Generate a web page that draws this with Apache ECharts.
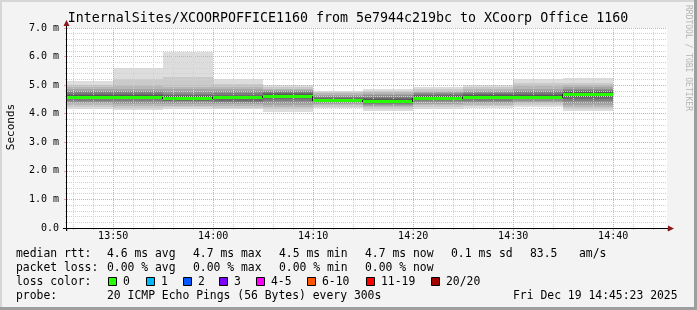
<!DOCTYPE html>
<html><head><meta charset="utf-8">
<script src="https://cdn.jsdelivr.net/npm/echarts@6/dist/echarts.min.js"></script>
<style>html,body{margin:0;padding:0;background:#f3f3f3}#c{width:697px;height:310px}</style>
</head><body><div id="c"></div>
<script>
// ---------------- data ----------------
const titleText = 'InternalSites/XCOORPOFFICE1160 from 5e7944c219bc to XCoorp Office 1160';
const graphStart = '13:45:23';
const graphEnd = '14:45:23';
const stepEnds = ['13:50','13:55','14:00','14:05','14:10','14:15','14:20','14:25','14:30','14:35','14:40'];
const medians = [4.60, 4.60, 4.55, 4.57, 4.63, 4.48, 4.45, 4.56, 4.59, 4.60, 4.68];
// 20 sorted ping RTTs (ms) per 5-minute step
const pingsByStep = [
  [4.18,4.24,4.30,4.36,4.41,4.46,4.50,4.54,4.57,4.59,4.61,4.63,4.66,4.70,4.75,4.80,4.86,4.92,5.00,5.15],
  [4.13,4.20,4.27,4.33,4.39,4.45,4.50,4.54,4.57,4.59,4.61,4.63,4.66,4.70,4.75,4.81,4.88,4.96,5.20,5.61],
  [4.16,4.22,4.28,4.34,4.39,4.43,4.46,4.49,4.52,4.54,4.56,4.58,4.61,4.65,4.70,4.77,4.85,4.95,5.30,6.15],
  [4.15,4.21,4.27,4.33,4.38,4.42,4.46,4.51,4.54,4.56,4.58,4.60,4.63,4.67,4.72,4.78,4.85,4.94,5.04,5.21],
  [4.07,4.15,4.23,4.31,4.38,4.44,4.50,4.56,4.60,4.62,4.64,4.66,4.69,4.72,4.76,4.80,4.84,4.88,4.93,5.00],
  [4.19,4.24,4.29,4.33,4.37,4.40,4.43,4.45,4.46,4.47,4.49,4.51,4.53,4.56,4.59,4.63,4.67,4.71,4.76,4.81],
  [4.10,4.16,4.22,4.27,4.31,4.35,4.38,4.40,4.42,4.44,4.46,4.49,4.52,4.56,4.60,4.65,4.70,4.75,4.81,4.88],
  [4.17,4.23,4.29,4.35,4.40,4.44,4.48,4.51,4.54,4.55,4.57,4.59,4.62,4.65,4.68,4.72,4.76,4.81,4.86,4.92],
  [4.20,4.26,4.32,4.37,4.42,4.46,4.50,4.53,4.56,4.58,4.60,4.62,4.65,4.68,4.72,4.76,4.81,4.86,4.92,5.00],
  [4.25,4.31,4.37,4.42,4.46,4.50,4.53,4.56,4.58,4.59,4.61,4.63,4.66,4.70,4.75,4.81,4.88,4.96,5.06,5.20],
  [4.11,4.18,4.25,4.32,4.39,4.45,4.51,4.57,4.63,4.67,4.69,4.72,4.76,4.80,4.84,4.88,4.93,4.99,5.08,5.24]
];
const yTickLabels = ['0.0','1.0 m','2.0 m','3.0 m','4.0 m','5.0 m','6.0 m','7.0 m'];
const xTickLabels = ['13:50','14:00','14:10','14:20','14:30','14:40'];
const yAxisName = 'Seconds';
const legendRows = [
  [[16,'median rtt:'],[107,'4.6 ms avg'],[193,'4.7 ms max'],[279,'4.5 ms min'],[365,'4.7 ms now'],[451,'0.1 ms sd'],[530,'83.5'],[579,'am/s']],
  [[16,'packet loss:'],[107,'0.00 % avg'],[193,'0.00 % max'],[279,'0.00 % min'],[365,'0.00 % now']],
  [[16,'loss color:']],
  [[16,'probe:'],[107,'20 ICMP Echo Pings (56 Bytes) every 300s'],[513,'Fri Dec 19 14:45:23 2025']]
];
const lossLabels = ['0','1','2','3','4-5','6-10','11-19','20/20'];
const lossColors = ['#26ff00','#00b8ff','#0059ff','#7e00ff','#ff00ff','#ff5500','#ff0000','#a10000'];
const lossBoxX = [108,146,183,219,256,307,366,431];
const watermark = 'RRDTOOL / TOBI OETIKER';

// ---------------- helpers ----------------
function toMin(s){const p=s.split(':').map(Number);return p[0]*60+p[1]+(p[2]||0)/60;}
function fmtMin(v){const h=Math.floor(v/60),m=Math.round(v-h*60);return h+':'+(m<10?'0':'')+m;}
const xMin = toMin(graphStart), xMax = toMin(graphEnd);
const endsMin = stepEnds.map(toMin);
const startsMin = endsMin.map((e,i)=> i===0 ? Math.max(xMin, e-5) : endsMin[i-1]);
const smokeData = pingsByStep.map((p,i)=>[startsMin[i], endsMin[i]].concat(p));
const medData = medians.map((m,i)=>[startsMin[i], endsMin[i], m]);

function grey(c){const h=c.toString(16).padStart(2,'0');return '#'+h+h+h;}
const MONO = '"DejaVu Sans Mono", monospace';
const minorGrid = {color:'#d0d0d0', width:1, type:[1,1]};
const majorGrid = {color:'#f0a0a0', width:1, type:[1,1]};

const chart = echarts.init(document.getElementById('c'), null, {renderer:'canvas'});

const graphics = [];
graphics.push({type:'rect', shape:{x:0,y:0,width:697,height:2}, style:{fill:'#d6d6d6'}, silent:true, z:-10});
graphics.push({type:'rect', shape:{x:0,y:0,width:2,height:310}, style:{fill:'#d6d6d6'}, silent:true, z:-10});
graphics.push({type:'rect', shape:{x:0,y:307,width:697,height:3}, style:{fill:'#9e9e9e'}, silent:true, z:-10});
graphics.push({type:'rect', shape:{x:694,y:0,width:3,height:310}, style:{fill:'#9e9e9e'}, silent:true, z:-10});
graphics.push({type:'text', x:348, y:19, style:{text:titleText, font:'13.3px '+MONO, fill:'#000', align:'center', verticalAlign:'middle'}, z:10});
graphics.push({type:'text', x:11, y:127, rotation:Math.PI/2, style:{text:yAxisName, font:'11px '+MONO, fill:'#000', align:'center', verticalAlign:'middle'}, z:10});
graphics.push({type:'text', x:688, y:5, rotation:-Math.PI/2, style:{text:watermark, font:'8px '+MONO, fill:'#b4b4b4', align:'left', verticalAlign:'middle'}, z:10});
graphics.push({type:'line', shape:{x1:63,y1:228.5,x2:669,y2:228.5}, style:{stroke:'#000',lineWidth:1}, z:20});
graphics.push({type:'line', shape:{x1:66.5,y1:231,x2:66.5,y2:25}, style:{stroke:'#000',lineWidth:1}, z:20});
graphics.push({type:'polygon', shape:{points:[[674,228.5],[668,225.5],[668,231.5]]}, style:{fill:'#8b1a1a'}, z:20});
graphics.push({type:'polygon', shape:{points:[[66.5,20],[63.5,26],[69.5,26]]}, style:{fill:'#8b1a1a'}, z:20});
const rowY = [254,268,282,296];
legendRows.forEach((row,ri)=>{
  row.forEach(([x,t])=>{
    graphics.push({type:'text', x:x, y:rowY[ri], style:{text:t, font:'11.4px '+MONO, fill:'#000', align:'left', verticalAlign:'middle'}, z:10});
  });
});
lossLabels.forEach((l,i)=>{
  graphics.push({type:'rect', shape:{x:lossBoxX[i]+0.5,y:277.5,width:8,height:8}, style:{fill:lossColors[i], stroke:'#000', lineWidth:1}, z:10});
  graphics.push({type:'text', x:lossBoxX[i]+15, y:282, style:{text:l, font:'11.4px '+MONO, fill:'#000', align:'left', verticalAlign:'middle'}, z:10});
});

const option = {
  animation:false,
  backgroundColor:'#f3f3f3',
  grid:{left:67, right:30, top:28, bottom:82, show:true, backgroundColor:'#ffffff', borderWidth:0},
  xAxis:{
    type:'value', min:xMin, max:xMax, splitNumber:6, z:3,
    axisLine:{show:false},
    axisTick:{show:true, length:3, inside:false, lineStyle:{color:'#f0a0a0'}},
    minorTick:{show:true, splitNumber:5, length:2, lineStyle:{color:'#c8c8c8'}},
    axisLabel:{show:true, margin:3, fontSize:10, fontFamily:'DejaVu Sans Mono', color:'#000', showMinLabel:false, showMaxLabel:false,
      formatter:v=>{const s=fmtMin(v);return xTickLabels.indexOf(s)>=0?s:'';}},
    splitLine:{show:true, showMinLine:false, showMaxLine:false, lineStyle:majorGrid},
    minorSplitLine:{show:true, lineStyle:minorGrid}
  },
  yAxis:{
    type:'value', min:0, max:7, interval:1, z:3,
    axisLine:{show:false},
    axisTick:{show:true, length:3, lineStyle:{color:'#f0a0a0'}},
    minorTick:{show:true, splitNumber:5, length:2, lineStyle:{color:'#c8c8c8'}},
    axisLabel:{margin:8, fontSize:10, fontFamily:'DejaVu Sans Mono', color:'#000', formatter:v=>yTickLabels[Math.round(v)]},
    splitLine:{show:true, showMinLine:false, lineStyle:majorGrid},
    minorSplitLine:{show:true, lineStyle:minorGrid}
  },
  graphic:graphics,
  series:[
    {
      type:'custom', z:2, silent:true,
      data:smokeData,
      encode:{x:[0,1], y:[2,21]},
      renderItem:function(params, api){
        const s=api.value(0), e=api.value(1);
        const children=[];
        for(let i=0;i<10;i++){
          const lo=api.value(2+i), hi=api.value(21-i);
          const p0=api.coord([s,hi]), p1=api.coord([e,lo]);
          const x0=Math.round(p0[0]), x1=Math.round(p1[0]);
          const y0=Math.round(p0[1]), y1=Math.round(p1[1]);
          const c=Math.floor(190/10*(10-(i+1)))+50;
          children.push({type:'rect', shape:{x:x0,y:y0,width:x1-x0,height:Math.max(1,y1-y0)}, style:{fill:grey(c)}});
        }
        return {type:'group', children:children};
      }
    },
    {
      type:'custom', z:5, silent:true,
      data:medData,
      encode:{x:[0,1], y:2},
      renderItem:function(params, api){
        const idx=params.dataIndex;
        const p0=api.coord([api.value(0), api.value(2)]), p1=api.coord([api.value(1), api.value(2)]);
        const x0=Math.round(p0[0]), x1=Math.round(p1[0]);
        const y=Math.round(p0[1]);
        const children=[];
        if(idx>0){
          const prev=api.coord([api.value(0), medians[idx-1]]);
          const py=Math.round(prev[1]);
          if(py!==y){
            children.push({type:'rect', shape:{x:x0-1, y:Math.min(py,y), width:1, height:Math.abs(py-y)+1}, style:{fill:'#202020'}});
          }
        }
        children.push({type:'rect', shape:{x:x0, y:y-1, width:x1-x0, height:3}, style:{fill:lossColors[0]}});
        return {type:'group', children:children};
      }
    }
  ]
};
chart.setOption(option);
</script>
</body></html>
